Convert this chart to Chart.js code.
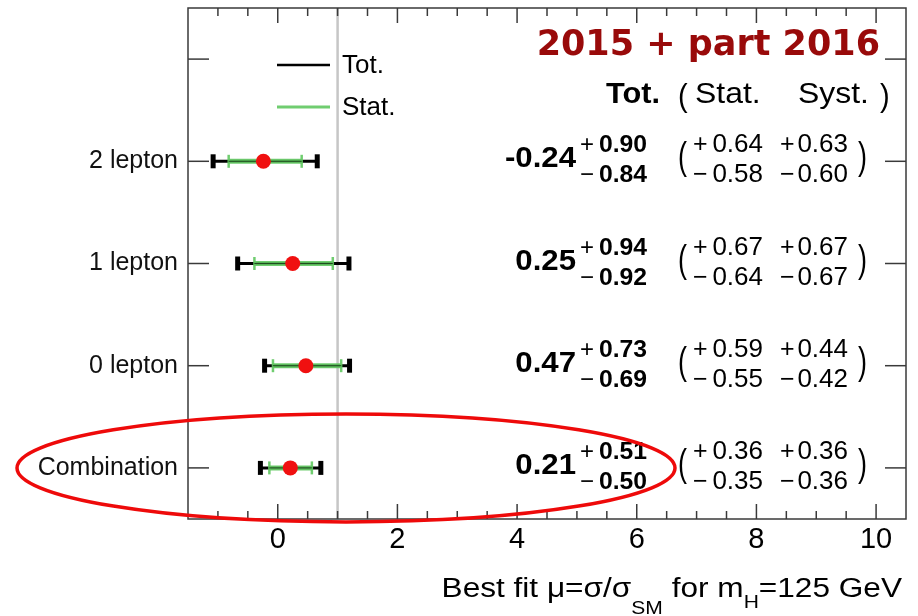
<!DOCTYPE html>
<html>
<head>
<meta charset="utf-8">
<script src="https://cdn.jsdelivr.net/npm/chart.js@4.4.0/dist/chart.umd.min.js"></script>
<style>
  html, body { margin: 0; padding: 0; background: #fff; }
</style>
</head>
<body>
<canvas id="chart" width="918" height="616"></canvas>
<script>
// signal strength per channel, bottom row first
const categories = ['Combination', '0 lepton', '1 lepton', '2 lepton'];
const mu = [0.21, 0.47, 0.25, -0.24];
const totUp = [0.51, 0.73, 0.94, 0.90];
const totDown = [0.50, 0.69, 0.92, 0.84];
const statUp = [0.36, 0.59, 0.67, 0.64];
const statDown = [0.35, 0.55, 0.64, 0.58];
const systUp = [0.36, 0.44, 0.67, 0.63];
const systDown = [0.36, 0.42, 0.67, 0.60];
const xTickLabels = [0, 2, 4, 6, 8, 10];

const FONT = '"Liberation Sans", Arial, Helvetica, sans-serif';
const GREEN = 'rgba(96, 200, 96, 0.9)';

function seg(ctx, x0, y0, x1, y1) {
    ctx.beginPath();
    ctx.moveTo(x0, y0);
    ctx.lineTo(x1, y1);
    ctx.stroke();
}

// text with optional stretch, anchored at (x, y)
function text(ctx, s, x, y, font, align, sx, sy) {
    ctx.save();
    ctx.translate(x, y);
    ctx.scale(sx || 1, sy || 1);
    ctx.font = font;
    ctx.textAlign = align || 'left';
    ctx.fillText(s, 0, 0);
    ctx.restore();
}

const errorBars = {
    id: 'errorBars',
    beforeDatasetsDraw(chart) {
        const { ctx, chartArea: a, scales: { x, y } } = chart;
        ctx.save();
        // SM expectation
        const x1 = x.getPixelForValue(1);
        ctx.strokeStyle = '#c6c6c6';
        ctx.lineWidth = 2.5;
        seg(ctx, x1, a.top, x1, a.bottom);

        mu.forEach((m, i) => {
            const py = y.getPixelForValue(i);
            const t0 = x.getPixelForValue(m - totDown[i]);
            const t1 = x.getPixelForValue(m + totUp[i]);
            const s0 = x.getPixelForValue(m - statDown[i]);
            const s1 = x.getPixelForValue(m + statUp[i]);
            ctx.strokeStyle = '#000';
            ctx.lineWidth = 3;
            seg(ctx, t0, py, t1, py);
            ctx.lineWidth = 5;
            seg(ctx, t0, py - 7, t0, py + 7);
            seg(ctx, t1, py - 7, t1, py + 7);
            ctx.strokeStyle = GREEN;
            ctx.lineWidth = 5;
            seg(ctx, s0, py, s1, py);
            ctx.lineWidth = 2.5;
            seg(ctx, s0, py - 6.5, s0, py + 6.5);
            seg(ctx, s1, py - 6.5, s1, py + 6.5);
            ctx.strokeStyle = '#1f4a1f';
            ctx.lineWidth = 1;
            seg(ctx, s0, py, s1, py);
        });
        ctx.restore();
    },
    afterDraw(chart) {
        const { ctx, chartArea: a, scales: { x, y } } = chart;
        ctx.save();

        // frame and inward ticks
        ctx.strokeStyle = '#3a3a3a';
        ctx.lineWidth = 1.5;
        ctx.strokeRect(a.left, a.top, a.right - a.left, a.bottom - a.top);
        x.ticks.forEach(t => {
            if (t.value <= x.min || t.value >= x.max) return;
            const px = x.getPixelForValue(t.value);
            const len = xTickLabels.includes(t.value) ? 15 : 8;
            seg(ctx, px, a.bottom, px, a.bottom - len);
            seg(ctx, px, a.top, px, a.top + len);
        });
        y.ticks.forEach(t => {
            const py = y.getPixelForValue(t.value);
            seg(ctx, a.left, py, a.left + 21, py);
            seg(ctx, a.right, py, a.right - 21, py);
        });

        // legend
        ctx.lineWidth = 2.5;
        ctx.strokeStyle = '#000';
        seg(ctx, 277, 65, 330, 65);
        ctx.strokeStyle = GREEN;
        ctx.lineWidth = 3;
        seg(ctx, 277, 107, 330, 107);
        ctx.fillStyle = '#000';
        ctx.textBaseline = 'alphabetic';
        text(ctx, 'Tot.', 342, 73, `26px ${FONT}`);
        text(ctx, 'Stat.', 342, 115, `26px ${FONT}`);

        // column headings
        text(ctx, 'Tot.', 660, 103, `bold 29px ${FONT}`, 'right', 1.06);
        text(ctx, '(', 678, 106, `29px ${FONT}`, 'left', 1, 1.1);
        text(ctx, 'Stat.', 695, 103, `29px ${FONT}`, 'left', 1.1);
        text(ctx, 'Syst.', 798, 103, `29px ${FONT}`, 'left', 1.1);
        text(ctx, ')', 880, 106, `29px ${FONT}`, 'left', 1, 1.1);

        // numbers per row
        mu.forEach((m, i) => {
            const py = y.getPixelForValue(i);
            text(ctx, m.toFixed(2), 576, py + 6, `bold 30px ${FONT}`, 'right', 1.04);
            text(ctx, '+', 580, py - 9, `24px ${FONT}`);
            text(ctx, totUp[i].toFixed(2), 647, py - 9, `bold 24px ${FONT}`, 'right', 1.03);
            text(ctx, '\u2212', 580, py + 21, `24px ${FONT}`);
            text(ctx, totDown[i].toFixed(2), 647, py + 21, `bold 24px ${FONT}`, 'right', 1.03);

            text(ctx, '(', 678, py + 8, `27px ${FONT}`, 'left', 1, 1.45);
            text(ctx, '+', 693, py - 9, `25px ${FONT}`);
            text(ctx, statUp[i].toFixed(2), 763, py - 9, `25px ${FONT}`, 'right', 1.04);
            text(ctx, '\u2212', 693, py + 21, `25px ${FONT}`);
            text(ctx, statDown[i].toFixed(2), 763, py + 21, `25px ${FONT}`, 'right', 1.04);
            text(ctx, '+', 780, py - 9, `25px ${FONT}`);
            text(ctx, systUp[i].toFixed(2), 848, py - 9, `25px ${FONT}`, 'right', 1.04);
            text(ctx, '\u2212', 780, py + 21, `25px ${FONT}`);
            text(ctx, systDown[i].toFixed(2), 848, py + 21, `25px ${FONT}`, 'right', 1.04);
            text(ctx, ')', 858, py + 8, `27px ${FONT}`, 'left', 1, 1.45);
        });

        // dataset label
        ctx.fillStyle = '#990a0a';
        text(ctx, '2015 + part 2016', 880, 55, 'bold 35px "DejaVu Sans", sans-serif', 'right');

        // x axis title with subscripts
        ctx.fillStyle = '#000';
        const SX = 1.17;
        const parts = [
            ['Best fit \u03bc=\u03c3/\u03c3', 27, 0],
            ['SM', 18, 17],
            [' for m', 27, 0],
            ['H', 18, 11],
            ['=125 GeV', 27, 0]
        ];
        let total = 0;
        parts.forEach(p => { ctx.font = `${p[1]}px ${FONT}`; total += ctx.measureText(p[0]).width * SX; });
        let cx = 902 - total;
        parts.forEach(p => {
            text(ctx, p[0], cx, 597 + p[2], `${p[1]}px ${FONT}`, 'left', SX);
            ctx.font = `${p[1]}px ${FONT}`;
            cx += ctx.measureText(p[0]).width * SX;
        });

        // highlight around the combined result
        ctx.strokeStyle = '#ee0a0a';
        ctx.lineWidth = 3.5;
        ctx.beginPath();
        ctx.ellipse(346, y.getPixelForValue(0), 329, 54, 0, 0, Math.PI * 2);
        ctx.stroke();
        ctx.restore();
    }
};

new Chart(document.getElementById('chart'), {
    type: 'scatter',
    data: {
        datasets: [{
            data: mu.map((m, i) => ({ x: m, y: i })),
            backgroundColor: '#f01010',
            borderWidth: 0,
            pointRadius: 7.5,
            pointHoverRadius: 7.5
        }]
    },
    options: {
        responsive: false,
        animation: false,
        devicePixelRatio: 1,
        layout: { padding: { top: 8, right: 12, left: 0, bottom: 0 } },
        plugins: { legend: { display: false }, tooltip: { enabled: false } },
        scales: {
            x: {
                type: 'linear',
                min: -1.5,
                max: 10.5,
                afterBuildTicks: s => {
                    const t = [];
                    for (let v = -1.5; v <= 10.5; v += 0.5) t.push({ value: v });
                    s.ticks = t;
                },
                afterFit: s => {
                    s.height = 97;
                    s.paddingLeft = 0;
                    s.paddingRight = 0;
                },
                grid: { display: false },
                border: { display: false },
                ticks: {
                    autoSkip: false,
                    maxRotation: 0,
                    padding: -4,
                    color: '#000',
                    font: { family: FONT, size: 29 },
                    callback: v => xTickLabels.includes(v) ? String(v) : ''
                }
            },
            y: {
                type: 'linear',
                min: -0.5,
                max: 4.5,
                afterBuildTicks: s => {
                    s.ticks = [0, 1, 2, 3, 4].map(v => ({ value: v }));
                },
                afterFit: s => {
                    s.width = 188;
                    s.paddingTop = 0;
                    s.paddingBottom = 0;
                },
                grid: { display: false },
                border: { display: false },
                ticks: {
                    padding: 2,
                    color: '#111',
                    font: { family: FONT, size: 25 },
                    callback: v => categories[v] || ''
                }
            }
        }
    },
    plugins: [errorBars]
});
</script>
</body>
</html>
